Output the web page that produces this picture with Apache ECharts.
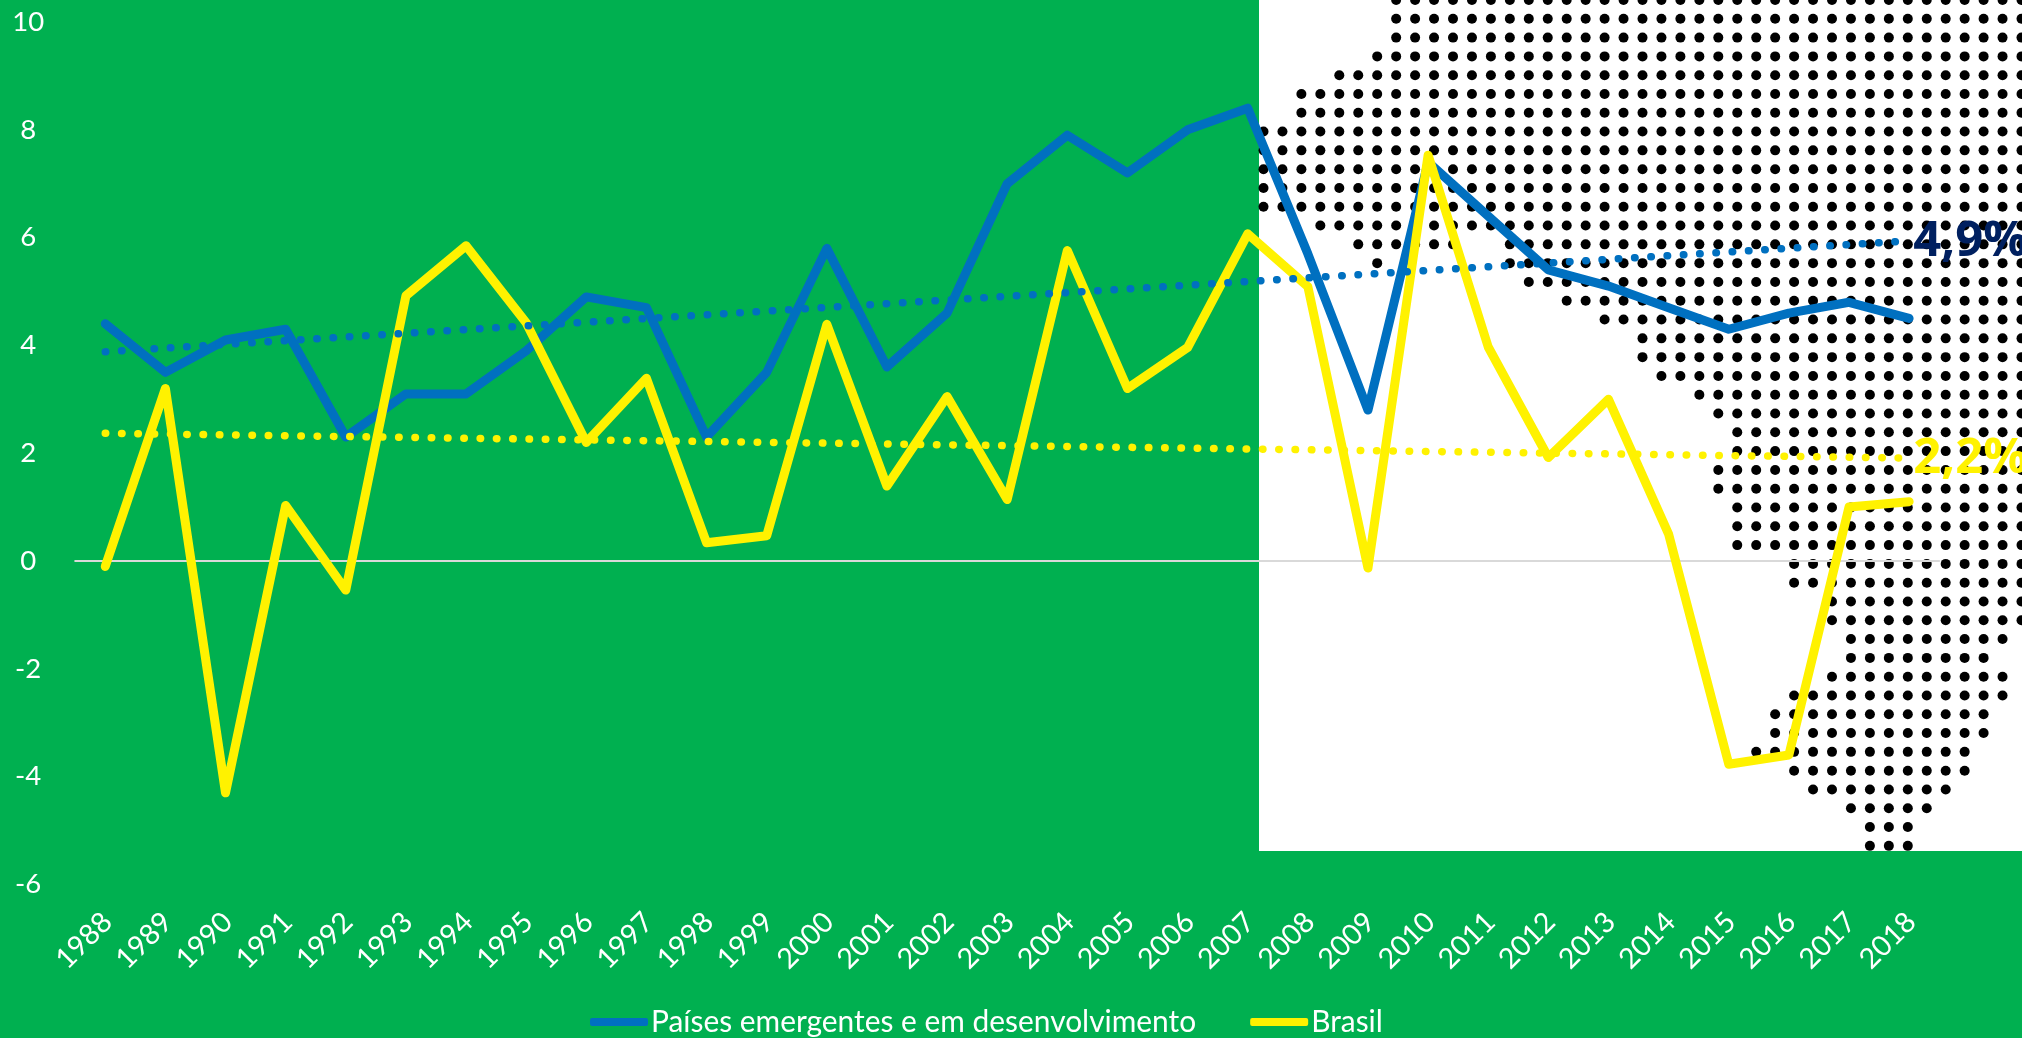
<!DOCTYPE html>
<html><head><meta charset="utf-8">
<style>html,body{margin:0;padding:0;background:#00B050;overflow:hidden}#c{width:2022px;height:1038px}</style>
<script src="https://cdn.jsdelivr.net/npm/echarts@6/dist/echarts.min.js"></script>
</head><body><div id="c"></div>
<script>
const years = ['1988','1989','1990','1991','1992','1993','1994','1995','1996','1997','1998','1999','2000','2001','2002','2003','2004','2005','2006','2007','2008','2009','2010','2011','2012','2013','2014','2015','2016','2017','2018'];
const emergentes = [4.4,3.5,4.1,4.3,2.3,3.1,3.1,3.9,4.9,4.7,2.3,3.5,5.8,3.6,4.6,7.0,7.9,7.2,8.0,8.4,5.7,2.8,7.4,6.4,5.4,5.1,4.7,4.3,4.6,4.8,4.5];
const brasil = [-0.1,3.2,-4.3,1.03,-0.54,4.92,5.85,4.42,2.2,3.39,0.34,0.47,4.39,1.39,3.05,1.14,5.76,3.2,3.96,6.07,5.09,-0.13,7.53,3.97,1.92,3.0,0.5,-3.77,-3.6,1.0,1.1];
const trendEmergentes = [['1988',3.88],['2018',5.94]];
const trendBrasil = [['1988',2.37],['2018',1.91]];
const nameEmergentes = 'Países emergentes e em desenvolvimento';
const nameBrasil = 'Brasil';
const labelEmergentes = '4,9%';
const labelBrasil = '2,2%';
// decorative dot map: for each row (from row -1 down), spans of dot columns [first,last]
const dotRowFirst = -1;
const dotSpans = [
 [[7,40]],[[7,40]],[[7,40]],[[6,40]],[[4,40]],[[2,40]],[[2,40]],[[0,40]],[[0,40]],[[0,40]],[[0,40]],[[0,40]],
 [[3,40]],[[5,10],[13,40]],[[6,6],[13,40]],[[14,40]],[[16,40]],[[18,40]],[[20,40]],[[20,40]],[[21,40]],[[23,40]],
 [[24,40]],[[25,40]],[[25,40]],[[24,40]],[[24,40]],[[25,40]],[[25,40]],[[25,40]],[[28,40]],[[28,40]],[[30,40]],[[30,40]],
 [[31,39]],[[31,38]],[[30,39]],[[28,39]],[[27,38]],[[27,38]],[[26,37]],[[28,37]],[[29,36]],[[31,35]],[[32,34]],[[32,34]]
];
const dots = [];
dotSpans.forEach((spans,i)=>spans.forEach(([a,b])=>{for(let c=a;c<=b;c++)dots.push([c,dotRowFirst+i]);}));

const font='Lato';
const boldFont='"Open Sans"';
const chart = echarts.init(document.getElementById('c'));
chart.setOption({
  animation:false,
  backgroundColor:'#00B050',
  textStyle:{fontFamily:font},
  graphic:[{type:'rect',z:0,silent:true,shape:{x:1259,y:0,width:763,height:851},style:{fill:'#fff'}}],
  grid:[
    {left:75.2,top:22,width:1864,height:862.4},
    {left:1263.5,top:-2.85,width:758,height:848.7}
  ],
  xAxis:[
    {type:'category',gridIndex:0,data:years,position:'bottom',z:2,
     axisLine:{show:false,onZero:false},axisTick:{show:false},
     axisLabel:{color:'#fff',fontSize:28.5,rotate:45,margin:35,interval:0,fontFamily:font,padding:[0,-3,0,0]}},
    {type:'category',gridIndex:0,data:years,position:'bottom',z:2,
     axisLine:{show:true,onZero:true,lineStyle:{color:'#D9D9D9',width:2}},axisTick:{show:false},axisLabel:{show:false}},
    {type:'value',gridIndex:1,min:0,max:40,show:false}
  ],
  yAxis:[
    {type:'value',gridIndex:0,min:-6,max:10,interval:2,z:2,
     axisLine:{show:false},axisTick:{show:false},splitLine:{show:false},
     axisLabel:{color:'#fff',fontSize:27.5,margin:47,align:'center',fontFamily:font}},
    {type:'value',gridIndex:1,min:-1,max:44,inverse:true,show:false}
  ],
  legend:{
    left:590,top:1007,padding:0,itemWidth:58,itemHeight:8,itemGap:54,icon:'roundRect',
    data:[nameEmergentes,nameBrasil],
    textStyle:{color:'#fff',fontSize:29.9,fontFamily:font,padding:[0,0,0,-2]}
  },
  series:[
    {type:'scatter',name:'mapa',xAxisIndex:2,yAxisIndex:1,data:dots,symbol:'circle',symbolSize:10,clip:false,z:1,silent:true,
     itemStyle:{color:'#000',opacity:1},progressive:0},
    {type:'line',name:nameEmergentes,xAxisIndex:0,yAxisIndex:0,data:emergentes,showSymbol:false,symbol:'none',z:3,
     itemStyle:{color:'#0070C0'},lineStyle:{color:'#0070C0',width:9,cap:'round',join:'round'}},
    {type:'line',name:nameBrasil,xAxisIndex:0,yAxisIndex:0,data:brasil,showSymbol:false,symbol:'none',z:4,
     itemStyle:{color:'#FFF200'},lineStyle:{color:'#FFF200',width:9,cap:'round',join:'round'}},
    {type:'line',name:'Tendência emergentes',xAxisIndex:0,yAxisIndex:0,data:trendEmergentes,showSymbol:false,symbol:'none',z:5,clip:false,
     lineStyle:{color:'#0070C0',width:7.5,type:[0.5,15.8],cap:'round'},
     endLabel:{show:true,formatter:labelEmergentes,color:'#002060',fontSize:49,fontWeight:'bold',fontFamily:boldFont,distance:4,offset:[0,1]}},
    {type:'line',name:'Tendência Brasil',xAxisIndex:0,yAxisIndex:0,data:trendBrasil,showSymbol:false,symbol:'none',z:5,clip:false,
     lineStyle:{color:'#FFF200',width:7.5,type:[0.5,15.8],cap:'round'},
     endLabel:{show:true,formatter:labelBrasil,color:'#FFF200',fontSize:49,fontWeight:'bold',fontFamily:boldFont,distance:4,offset:[0,1]}}
  ]
});
</script></body></html>
